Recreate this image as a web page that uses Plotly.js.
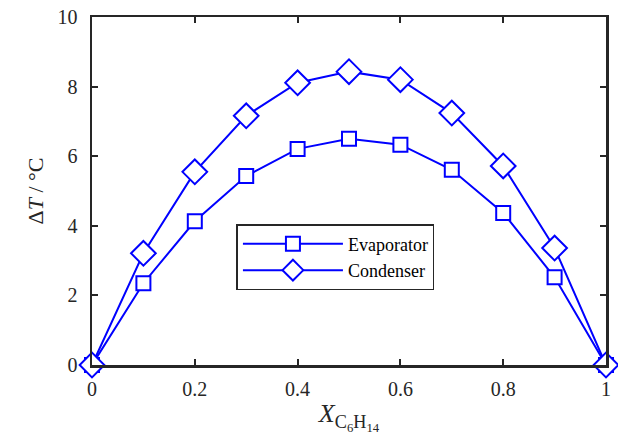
<!DOCTYPE html>
<html><head><meta charset="utf-8">
<script src="https://cdn.plot.ly/plotly-3.0.1.min.js"></script>
<style>body{margin:0;background:#fff}#plot{width:618px;height:438px}</style>
</head><body><div id="plot"></div>
<script>
const xFrac = [0, 0.1, 0.2, 0.3, 0.4, 0.5, 0.6, 0.7, 0.8, 0.9, 1];
const evaporator = [0, 2.35, 4.13, 5.43, 6.21, 6.50, 6.33, 5.61, 4.37, 2.52, 0];
const condenser = [0, 3.21, 5.55, 7.16, 8.11, 8.43, 8.20, 7.24, 5.72, 3.36, 0];
const xTicks = [0, 0.2, 0.4, 0.6, 0.8, 1];
const xTickText = ['0', '0.2', '0.4', '0.6', '0.8', '1'];
const yTicks = [0, 2, 4, 6, 8, 10];
const font = 'Liberation Serif, DejaVu Serif, serif';
const blue = '#0000ff';
const traces = [
  {x: xFrac, y: evaporator, name: 'Evaporator', mode: 'lines+markers', type: 'scatter', cliponaxis: false,
   line: {color: blue, width: 2},
   marker: {symbol: 'square', size: 14, color: 'white', line: {color: blue, width: 2}}},
  {x: xFrac, y: condenser, name: 'Condenser', mode: 'lines+markers', type: 'scatter', cliponaxis: false,
   line: {color: blue, width: 2},
   marker: {symbol: 'diamond', size: 19, color: 'white', line: {color: blue, width: 2}}}
];
const axisCommon = {showline: true, linecolor: '#262626', linewidth: 2.5, mirror: 'ticks',
  ticks: 'inside', ticklen: 6, tickwidth: 2, tickcolor: '#262626', showgrid: false, zeroline: false,
  tickfont: {family: font, size: 20, color: '#262626'}};
const layout = {
  width: 618, height: 438, paper_bgcolor: '#fff', plot_bgcolor: '#fff',
  margin: {l: 92, r: 12, t: 17, b: 73},
  showlegend: true,
  legend: {x: 0.281, y: 0.405, xanchor: 'left', yanchor: 'top', bgcolor: '#fff',
    bordercolor: '#262626', borderwidth: 1.5, font: {family: font, size: 18, color: '#000'},
    tracegroupgap: 0, itemwidth: 100},
  xaxis: Object.assign({}, axisCommon, {range: [0, 1], tickvals: xTicks, ticktext: xTickText, ticklabelstandoff: 4,
    title: {text: '<i>X</i><sub>C<sub>6</sub>H<sub>14</sub></sub>', font: {family: font, size: 26, color: '#262626'}, standoff: 6}}),
  yaxis: Object.assign({}, axisCommon, {range: [0, 10], tickvals: yTicks, ticklabelstandoff: 8,
    title: {text: 'Δ<i>T</i> / °C', font: {family: font, size: 22, color: '#262626'}, standoff: 8}})
};
Plotly.newPlot('plot', traces, layout, {displayModeBar: false, staticPlot: true});
</script></body></html>
